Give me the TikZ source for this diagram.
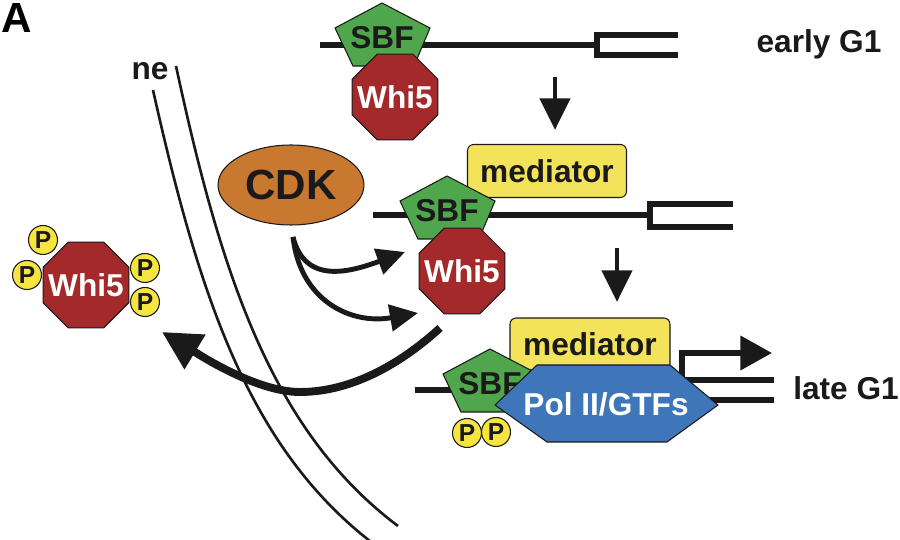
\documentclass[tikz,border=0pt]{standalone}
\usepackage{fontspec}
\setmainfont{Liberation Sans}
\usetikzlibrary{calc,arrows.meta,shapes.geometric}
\definecolor{sbfgreen}{HTML}{4FA64C}
\definecolor{whired}{HTML}{A3292B}
\definecolor{medyel}{HTML}{F3E35A}
\definecolor{pyel}{HTML}{F6E43F}
\definecolor{polblue}{HTML}{3F75B9}
\definecolor{cdkorange}{HTML}{C9782F}
\definecolor{ink}{HTML}{1A1A1A}
\newcommand{\bigfont}{\bfseries\fontsize{18}{20}\selectfont}
\newcommand{\sbfpent}[2]{\draw[sbf] (#2) -- ++(-47,25) -- ++(18,38) -- ++(61,0) -- ++(16,-38) -- cycle;
  \node[lbl] (#1) at ($(#2)+(0,35)$) {SBF};}
\newcommand{\whioct}[2]{\node[whi] (#1) at (#2) {}; \node[lbl,text=white] (#1t) at (#1.center) {Whi5};}
\tikzset{dna/.style={line width=3.7pt,ink}, genebox/.style={line width=3.1pt,ink},
  nel/.style={line width=1.5pt,ink},
  lbl/.style={font=\bigfont,text=ink,inner sep=0pt},
  sbf/.style={fill=sbfgreen,draw=ink,line width=0.6pt},
  whi/.style={regular polygon,regular polygon sides=8,minimum size=1.86cm,inner sep=0pt,fill=whired,draw=ink,line width=0.6pt},
  med/.style={rectangle,rounded corners=3.5pt,fill=medyel,draw=ink,line width=0.6pt,font=\bigfont,text=ink},
  pol/.style={fill=polblue,draw=ink,line width=0.6pt},
  cdk/.style={ellipse,minimum width=2.92cm,minimum height=1.6cm,fill=cdkorange,draw=ink,line width=0.6pt,font=\bfseries\fontsize{24}{24}\selectfont,text=ink},
  pc/.style={circle,minimum size=0.58cm,inner sep=0pt,fill=pyel,draw=ink,line width=0.6pt,font=\bfseries\fontsize{14}{14}\selectfont,text=ink},
  downarr/.style={line width=2.8pt,ink,-{Triangle[length=18pt,width=17pt]}},
  kinarr/.style={line width=2.8pt,ink,-{Triangle[length=16pt,width=15pt]}},
  exparr/.style={line width=4.5pt,ink,-{Triangle[length=22pt,width=22pt]}},
  tssarr/.style={line width=3.4pt,ink,-{Triangle[length=18pt,width=19pt]}}}

\begin{document}
\begin{tikzpicture}[x=0.02cm,y=-0.02cm]
\useasboundingbox (0,0) rectangle (900,540);
% nuclear envelope
\draw[nel] (153,90) .. controls (200,300) and (250,450) .. (375,545);
\draw[nel] (176,66) .. controls (220,270) and (270,430) .. (398,526);
\node[lbl,anchor=base] (ne) at (150,80) {ne};
\node[font=\bfseries\fontsize{24}{24}\selectfont,anchor=base,inner sep=0pt] (panel) at (17,33) {A};
% early G1
\draw[dna] (320,45) -- (597,45);
\draw[genebox] (678,35) -- (597,35) -- (597,55) -- (678,55);
\sbfpent{sbf1}{382,3}
\whioct{whi1}{395,97}
\node[lbl,anchor=base] (early) at (819,53) {early G1};
\coordinate (d1s) at (555,77); \coordinate (d1e) at (555,130);
\draw[downarr] (d1s) -- (d1e);
% CDK acts on SBF/Whi5
\node[cdk] (cdk) at (291,185) {CDK};
\draw[dna] (373,215) -- (650,215);
\draw[genebox] (733,204) -- (650,204) -- (650,227) -- (733,227);
\node[med,minimum width=3.18cm,minimum height=1.06cm] (med1) at (547,171) {mediator};
\sbfpent{sbf2}{447,176}
\whioct{whi2}{462,271}
\coordinate (d2s) at (617,248); \coordinate (d2e) at (617,302);
\draw[downarr] (d2s) -- (d2e);
\coordinate (kin) at (293,237); \coordinate (tgt1) at (405,252); \coordinate (tgt2) at (418,313);
\draw[kinarr] (kin) .. controls (305,285) and (350,272) .. (tgt1);
\draw[kinarr] (kin) .. controls (300,300) and (350,325) .. (tgt2);
% late G1
\draw[dna] (415,390) -- (685,390);
\draw[genebox] (774,380) -- (684,380) -- (684,400) -- (774,400);
\coordinate (tss) at (682,381); \coordinate (tssend) at (772,353);
\draw[tssarr] (tss) |- (tssend);
\node[med,minimum width=3.2cm,minimum height=1.04cm] (med2) at (590,344) {mediator};
\sbfpent{sbf3}{490,349}
\draw[pol] (495,405) -- (537,365) -- (670,365) -- (718,405) -- (667,442) -- (547,442) -- cycle;
\node[lbl,text=white] (pol) at (606,404) {Pol II/GTFs};
\node[pc] (p5) at (467,433) {P}; \node[pc] (p6) at (496,432) {P};
\node[lbl,anchor=base] (late) at (846,400) {late G1};
% exported Whi5
\whioct{whi3}{86,285}
\node[pc] (p1) at (43,240) {P}; \node[pc] (p2) at (27,275) {P};
\node[pc] (p3) at (145,268) {P}; \node[pc] (p4) at (145,302) {P};
\coordinate (exp) at (440,328); \coordinate (expend) at (162,332);
\draw[exparr] (exp) .. controls (405,360) and (355,392) .. (300,392) .. controls (255,392) and (195,352) .. (expend);
\end{tikzpicture}
\end{document}
